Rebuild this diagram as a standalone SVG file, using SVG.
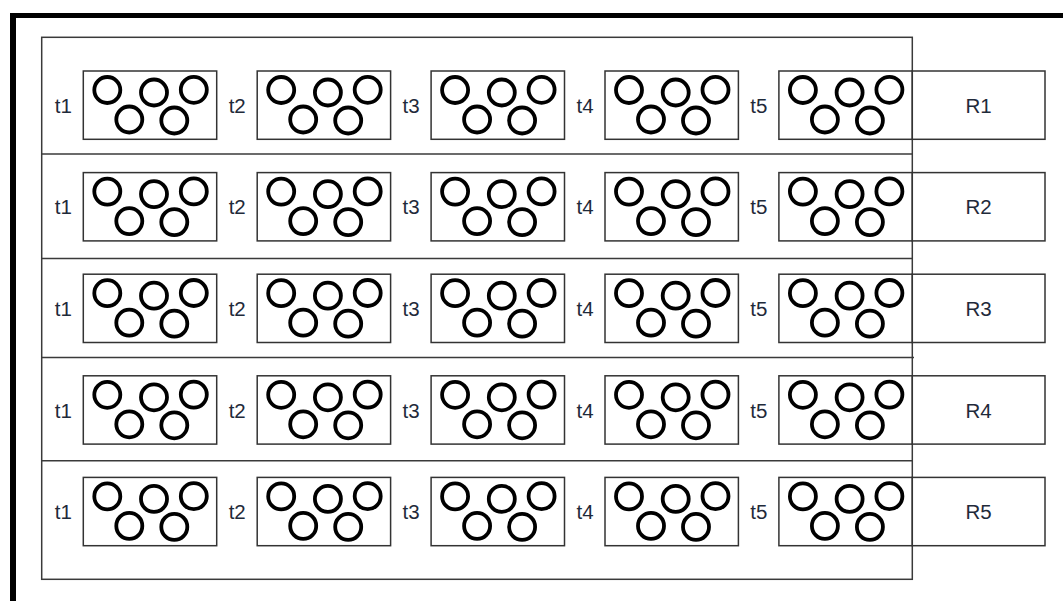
<svg xmlns="http://www.w3.org/2000/svg" xmlns:xlink="http://www.w3.org/1999/xlink" width="1063" height="601" viewBox="0 0 1063 601">
<style>
.frame{fill:none;stroke:#3a3a3a;stroke-width:1.5}
.box{fill:#fff;stroke:#333;stroke-width:1.5}
.ring{fill:none;stroke:#000;stroke-width:3.8}
.lbl{font-family:"Liberation Sans",Arial,sans-serif;font-size:20.5px;fill:#1f2a3a;text-anchor:middle}
</style>
<defs>
<g id="rings">
<circle class="ring" cx="24" cy="19" r="13"/>
<circle class="ring" cx="70.7" cy="21.5" r="13"/>
<circle class="ring" cx="110.5" cy="18.8" r="13"/>
<circle class="ring" cx="46" cy="48.5" r="13"/>
<circle class="ring" cx="91" cy="49.5" r="13"/>
</g>
</defs>
<rect x="0" y="0" width="1063" height="601" fill="#fff"/>
<rect x="10" y="13" width="1053" height="5" fill="#000"/>
<rect x="10" y="13" width="6" height="588" fill="#000"/>
<g id="connectors">
<rect class="frame" x="41.7" y="37.3" width="870.6" height="542"/>
<line class="frame" x1="41.7" y1="154" x2="912.3" y2="154"/>
<line class="frame" x1="41.7" y1="258.5" x2="912.3" y2="258.5"/>
<line class="frame" x1="41.7" y1="357.5" x2="914" y2="357.5"/>
<line class="frame" x1="41.7" y1="460.7" x2="912.3" y2="460.7"/>
</g>
<!-- Row 1 -->
<g id="row1">
<g id="r1t1"><text class="lbl" x="63.3" y="112.7">t1</text><rect class="box" x="83.3" y="71" width="133.4" height="68.3"/><use href="#rings" transform="translate(83.3,71)"/></g>
<g id="r1t2"><text class="lbl" x="237.2" y="112.7">t2</text><rect class="box" x="257.2" y="71" width="133.4" height="68.3"/><use href="#rings" transform="translate(257.2,71)"/></g>
<g id="r1t3"><text class="lbl" x="411.1" y="112.7">t3</text><rect class="box" x="431.1" y="71" width="133.4" height="68.3"/><use href="#rings" transform="translate(431.1,71)"/></g>
<g id="r1t4"><text class="lbl" x="585" y="112.7">t4</text><rect class="box" x="605" y="71" width="133.4" height="68.3"/><use href="#rings" transform="translate(605,71)"/></g>
<g id="r1t5"><text class="lbl" x="758.9" y="112.7">t5</text><rect class="box" x="778.9" y="71" width="133.4" height="68.3"/><use href="#rings" transform="translate(778.9,71)"/></g>
<g id="R1"><rect class="box" x="912.3" y="71" width="132.7" height="68.3"/><text class="lbl" x="978.6" y="112.7">R1</text></g>
</g>
<!-- Row 2 -->
<g id="row2">
<g id="r2t1"><text class="lbl" x="63.3" y="214.3">t1</text><rect class="box" x="83.3" y="172.6" width="133.4" height="68.3"/><use href="#rings" transform="translate(83.3,172.6)"/></g>
<g id="r2t2"><text class="lbl" x="237.2" y="214.3">t2</text><rect class="box" x="257.2" y="172.6" width="133.4" height="68.3"/><use href="#rings" transform="translate(257.2,172.6)"/></g>
<g id="r2t3"><text class="lbl" x="411.1" y="214.3">t3</text><rect class="box" x="431.1" y="172.6" width="133.4" height="68.3"/><use href="#rings" transform="translate(431.1,172.6)"/></g>
<g id="r2t4"><text class="lbl" x="585" y="214.3">t4</text><rect class="box" x="605" y="172.6" width="133.4" height="68.3"/><use href="#rings" transform="translate(605,172.6)"/></g>
<g id="r2t5"><text class="lbl" x="758.9" y="214.3">t5</text><rect class="box" x="778.9" y="172.6" width="133.4" height="68.3"/><use href="#rings" transform="translate(778.9,172.6)"/></g>
<g id="R2"><rect class="box" x="912.3" y="172.6" width="132.7" height="68.3"/><text class="lbl" x="978.6" y="214.3">R2</text></g>
</g>
<!-- Row 3 -->
<g id="row3">
<g id="r3t1"><text class="lbl" x="63.3" y="315.9">t1</text><rect class="box" x="83.3" y="274.2" width="133.4" height="68.3"/><use href="#rings" transform="translate(83.3,274.2)"/></g>
<g id="r3t2"><text class="lbl" x="237.2" y="315.9">t2</text><rect class="box" x="257.2" y="274.2" width="133.4" height="68.3"/><use href="#rings" transform="translate(257.2,274.2)"/></g>
<g id="r3t3"><text class="lbl" x="411.1" y="315.9">t3</text><rect class="box" x="431.1" y="274.2" width="133.4" height="68.3"/><use href="#rings" transform="translate(431.1,274.2)"/></g>
<g id="r3t4"><text class="lbl" x="585" y="315.9">t4</text><rect class="box" x="605" y="274.2" width="133.4" height="68.3"/><use href="#rings" transform="translate(605,274.2)"/></g>
<g id="r3t5"><text class="lbl" x="758.9" y="315.9">t5</text><rect class="box" x="778.9" y="274.2" width="133.4" height="68.3"/><use href="#rings" transform="translate(778.9,274.2)"/></g>
<g id="R3"><rect class="box" x="912.3" y="274.2" width="132.7" height="68.3"/><text class="lbl" x="978.6" y="315.9">R3</text></g>
</g>
<!-- Row 4 -->
<g id="row4">
<g id="r4t1"><text class="lbl" x="63.3" y="417.5">t1</text><rect class="box" x="83.3" y="375.8" width="133.4" height="68.3"/><use href="#rings" transform="translate(83.3,375.8)"/></g>
<g id="r4t2"><text class="lbl" x="237.2" y="417.5">t2</text><rect class="box" x="257.2" y="375.8" width="133.4" height="68.3"/><use href="#rings" transform="translate(257.2,375.8)"/></g>
<g id="r4t3"><text class="lbl" x="411.1" y="417.5">t3</text><rect class="box" x="431.1" y="375.8" width="133.4" height="68.3"/><use href="#rings" transform="translate(431.1,375.8)"/></g>
<g id="r4t4"><text class="lbl" x="585" y="417.5">t4</text><rect class="box" x="605" y="375.8" width="133.4" height="68.3"/><use href="#rings" transform="translate(605,375.8)"/></g>
<g id="r4t5"><text class="lbl" x="758.9" y="417.5">t5</text><rect class="box" x="778.9" y="375.8" width="133.4" height="68.3"/><use href="#rings" transform="translate(778.9,375.8)"/></g>
<g id="R4"><rect class="box" x="912.3" y="375.8" width="132.7" height="68.3"/><text class="lbl" x="978.6" y="417.5">R4</text></g>
</g>
<!-- Row 5 -->
<g id="row5">
<g id="r5t1"><text class="lbl" x="63.3" y="519.1">t1</text><rect class="box" x="83.3" y="477.4" width="133.4" height="68.3"/><use href="#rings" transform="translate(83.3,477.4)"/></g>
<g id="r5t2"><text class="lbl" x="237.2" y="519.1">t2</text><rect class="box" x="257.2" y="477.4" width="133.4" height="68.3"/><use href="#rings" transform="translate(257.2,477.4)"/></g>
<g id="r5t3"><text class="lbl" x="411.1" y="519.1">t3</text><rect class="box" x="431.1" y="477.4" width="133.4" height="68.3"/><use href="#rings" transform="translate(431.1,477.4)"/></g>
<g id="r5t4"><text class="lbl" x="585" y="519.1">t4</text><rect class="box" x="605" y="477.4" width="133.4" height="68.3"/><use href="#rings" transform="translate(605,477.4)"/></g>
<g id="r5t5"><text class="lbl" x="758.9" y="519.1">t5</text><rect class="box" x="778.9" y="477.4" width="133.4" height="68.3"/><use href="#rings" transform="translate(778.9,477.4)"/></g>
<g id="R5"><rect class="box" x="912.3" y="477.4" width="132.7" height="68.3"/><text class="lbl" x="978.6" y="519.1">R5</text></g>
</g>
</svg>
